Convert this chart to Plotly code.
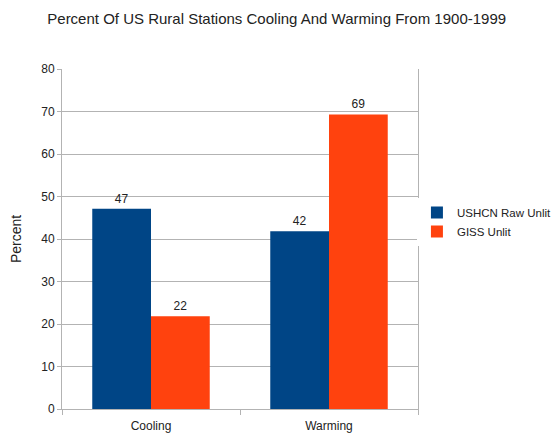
import plotly.graph_objects as go

categories = ['Cooling', 'Warming']
ushcn_raw = [47.1, 41.8]
giss = [21.8, 69.3]
series_names = ['USHCN Raw Unlit', 'GISS Unlit']

font = 'Liberation Sans, Arial, sans-serif'

fig = go.Figure()
fig.add_trace(go.Bar(
    x=categories, y=ushcn_raw, name=series_names[0],
    marker=dict(color='#004586', line=dict(width=0)),
    text=ushcn_raw, texttemplate='%{y:.0f}', textposition='outside',
    textfont=dict(size=12, color='#222222'), cliponaxis=False
))
fig.add_trace(go.Bar(
    x=categories, y=giss, name=series_names[1],
    marker=dict(color='#ff420e', line=dict(width=0)),
    text=giss, texttemplate='%{y:.0f}', textposition='outside',
    textfont=dict(size=12, color='#222222'), cliponaxis=False
))

fig.update_layout(
    width=559, height=444,
    margin=dict(l=62, r=141, t=69, b=35, autoexpand=False),
    paper_bgcolor='white', plot_bgcolor='white',
    font=dict(family=font, size=12, color='#222222'),
    title=dict(text='Percent Of US Rural Stations Cooling And Warming From 1900-1999',
               x=0.495, xanchor='center', y=0.958, yanchor='middle',
               font=dict(size=15, color='#222222')),
    barmode='group', bargap=0.34, bargroupgap=0,
    legend=dict(x=0.997, y=0.55, xanchor='left', yanchor='middle',
                font=dict(size=11.5), itemwidth=30, tracegroupgap=0),
    xaxis=dict(showline=True, linecolor='#b3b3b3', linewidth=1,
               ticks='outside', tickson='boundaries', ticklen=5, tickcolor='#b3b3b3',
               mirror=False, tickfont=dict(size=12), ticklabelstandoff=6),
    yaxis=dict(range=[0, 80], dtick=10, showgrid=True, gridcolor='#b3b3b3',
               showline=True, linecolor='#b3b3b3', linewidth=1, mirror=True,
               ticks='outside', ticklen=4, tickcolor='#b3b3b3', zeroline=False,
               title=dict(text='Percent', font=dict(size=14), standoff=16),
               tickfont=dict(size=12), ticklabelstandoff=0),
)

# the page has a default 8px body margin; remove it so the figure fits the window
fig.write_html('out.html', config={'displayModeBar': False},
               post_script="document.body.style.margin='0';")
